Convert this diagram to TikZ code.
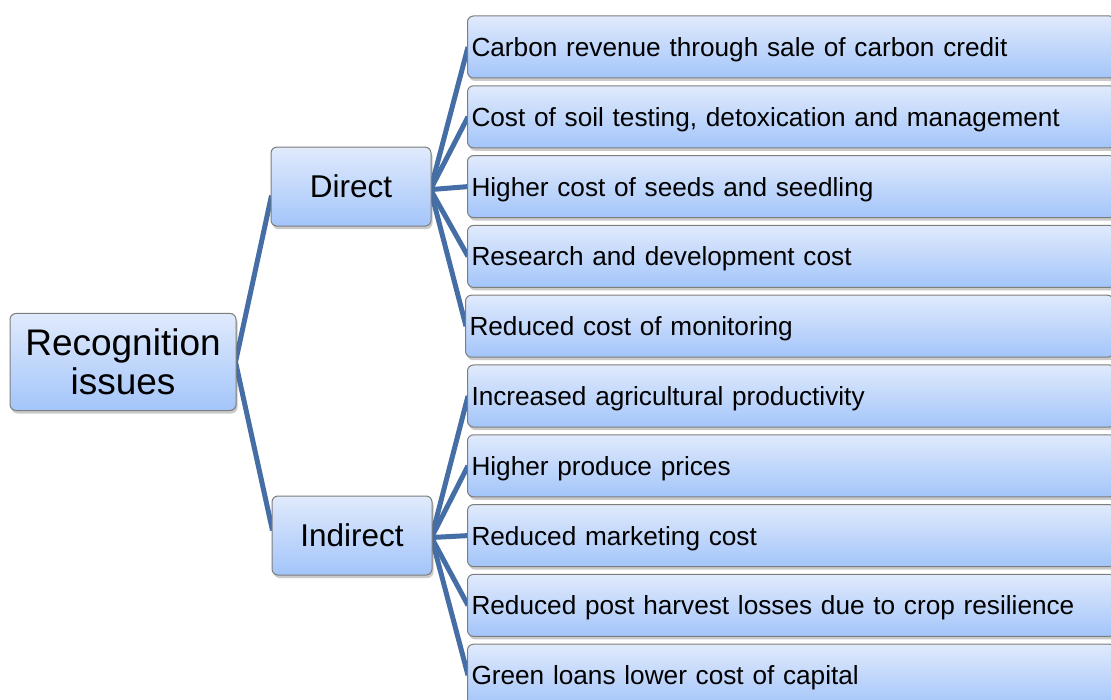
\documentclass[tikz,border=0pt]{standalone}
\usepackage{fontspec}
\setmainfont{Liberation Sans}
\usetikzlibrary{shadows,backgrounds}
\definecolor{linkblue}{RGB}{68,110,165}
\definecolor{boxtop}{RGB}{224,234,252}
\definecolor{boxbot}{RGB}{163,197,250}
\definecolor{boxedge}{RGB}{125,125,125}
\tikzset{
  box/.style={rectangle, rounded corners=6pt, draw=boxedge, line width=1pt,
    top color=boxtop, bottom color=boxbot,
    drop shadow={shadow xshift=1.5pt, shadow yshift=-3pt, opacity=0.35, fill=black!60}},
  rootbox/.style={box, minimum width=226pt, minimum height=97pt, align=center,
    font=\fontsize{37}{39.5}\selectfont},
  midbox/.style={box, minimum width=160pt, minimum height=79pt,
    font=\fontsize{31.5}{36}\selectfont},
  leafbox/.style={box, anchor=west, text width=640pt, align=left, inner xsep=4pt,
    inner ysep=0pt, text height=24.5pt, text depth=5.5pt,
    minimum height=62pt, font=\fontsize{26.2}{30}\selectfont},
  link/.style={draw=linkblue, line width=5pt}
}
\begin{document}
\begin{tikzpicture}[x=1pt,y=1pt]
\useasboundingbox (0,0) rectangle (1111,-700);
\clip (0,0) rectangle (1111,-700);
\node[rootbox] (root) at (123,-362) {Recognition\\issues};
\node[midbox] (direct) at (351,-186.6) {Direct};
\node[midbox] (indirect) at (352,-535.5) {Indirect};
\node[leafbox] (l1) at (467,-47) {Carbon revenue through sale of carbon credit};
\node[leafbox] (l2) at (467,-116.8) {Cost of soil testing, detoxication and management};
\node[leafbox] (l3) at (467,-186.6) {Higher cost of seeds and seedling};
\node[leafbox] (l4) at (467,-256.4) {Research and development cost};
\node[leafbox] (l5) at (465,-326.2) {Reduced cost of monitoring};
\node[leafbox] (l6) at (467,-396) {Increased agricultural productivity};
\node[leafbox] (l7) at (467,-465.8) {Higher produce prices};
\node[leafbox] (l8) at (467,-535.6) {Reduced marketing cost};
\node[leafbox] (l9) at (467,-605.4) {Reduced post harvest losses due to crop resilience};
\node[leafbox] (l10) at (467,-675.2) {Green loans lower cost of capital};
\begin{scope}[on background layer]
\draw[link] ([xshift=-1pt]root.east) -- ([yshift=-9pt,xshift=1pt]direct.west);
\draw[link] ([xshift=-1pt]root.east) -- ([yshift=5pt,xshift=1pt]indirect.west);
\foreach \n in {l1,l2,l3,l4,l5}
  \draw[link] ([yshift=-3pt,xshift=-1pt]direct.east) -- ([xshift=1pt]\n.west);
\foreach \n in {l6,l7,l8,l9,l10}
  \draw[link] ([yshift=-2pt,xshift=-1pt]indirect.east) -- ([xshift=1pt]\n.west);
\end{scope}
\end{tikzpicture}
\end{document}
